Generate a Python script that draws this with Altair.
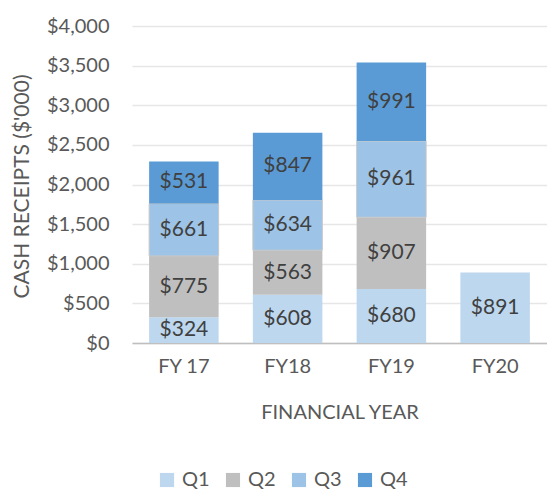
import altair as alt
import pandas as pd

years = ["FY 17", "FY18", "FY19", "FY20"]
quarters = ["Q1", "Q2", "Q3", "Q4"]
q1 = [324, 608, 680, 891]
q2 = [775, 563, 907, None]
q3 = [661, 634, 961, None]
q4 = [531, 847, 991, None]
colors = ["#BDD7EE", "#BFBFBF", "#9DC3E6", "#5B9BD5"]
y_ticks = [0, 500, 1000, 1500, 2000, 2500, 3000, 3500, 4000]

rows = []
for qi, (q, vals) in enumerate(zip(quarters, [q1, q2, q3, q4])):
    for y, v in zip(years, vals):
        if v is not None:
            rows.append({"year": y, "quarter": q, "qi": qi, "value": v})
df = pd.DataFrame(rows)

FONT = "Lato"
TXT = "#595959"

x_axis = alt.Axis(labelAngle=0, labelPadding=13, ticks=False,
                  domainColor="#BFBFBF", domainWidth=1.5,
                  titleY=69, titleBaseline="middle", titleFontWeight="normal")
y_axis = alt.Axis(values=y_ticks, format="$,.0f", tickCount=9,
                  domain=False, ticks=False, labelPadding=23,
                  labelOverlap=False,
                  gridColor="#E6E6E6", gridWidth=1.5,
                  titleAngle=270, titleX=-110, titleY=160, titleFontSize=21,
                  titleAlign="center", titleBaseline="middle",
                  titleFontWeight="normal")
x_scale = alt.Scale(paddingInner=0.33, paddingOuter=0.165)
y_scale = alt.Scale(domain=[0, 4000])
XT = "FINANCIAL YEAR"
YT = "CASH RECEIPTS ($'000)"

base = alt.Chart(df)

bars = base.mark_bar(strokeWidth=1).encode(
    x=alt.X("year:N", sort=years, title=XT, scale=x_scale, axis=x_axis),
    y=alt.Y("value:Q", stack="zero", title=YT, scale=y_scale, axis=y_axis),
    color=alt.Color("quarter:N", sort=quarters,
                    scale=alt.Scale(domain=quarters, range=colors),
                    legend=alt.Legend(title=None, orient="none", direction="horizontal",
                                      legendX=25, legendY=444, symbolType="square",
                                      symbolSize=200, symbolStrokeWidth=0,
                                      labelFontSize=20, labelFont=FONT, labelColor=TXT,
                                      columnPadding=13, labelOffset=5)),
    stroke=alt.condition(alt.datum.quarter == "Q3", alt.value("#C9C9C9"), alt.value(None)),
    order=alt.Order("qi:Q"),
)

labels = base.transform_window(
    cum="sum(value)", groupby=["year"], sort=[alt.SortField("qi")]
).transform_calculate(
    mid="datum.cum - datum.value / 2"
).mark_text(font=FONT, fontSize=21, color="#404040", baseline="middle").encode(
    x=alt.X("year:N", sort=years, title=XT, scale=x_scale, axis=x_axis),
    y=alt.Y("mid:Q", title=YT, scale=y_scale, axis=y_axis),
    text=alt.Text("value:Q", format="$,.0f"),
)

chart = (bars + labels).properties(
    width=415, height=317,
    autosize=alt.AutoSizeParams(type="none"),
    padding={"left": 132, "top": 26, "right": 0, "bottom": 148},
).configure_view(stroke=None).configure_axis(
    labelFont=FONT, titleFont=FONT, labelFontSize=20, titleFontSize=20,
    labelColor=TXT, titleColor=TXT,
)

chart.save("out.html", embed_options={"renderer": "svg", "actions": False})
